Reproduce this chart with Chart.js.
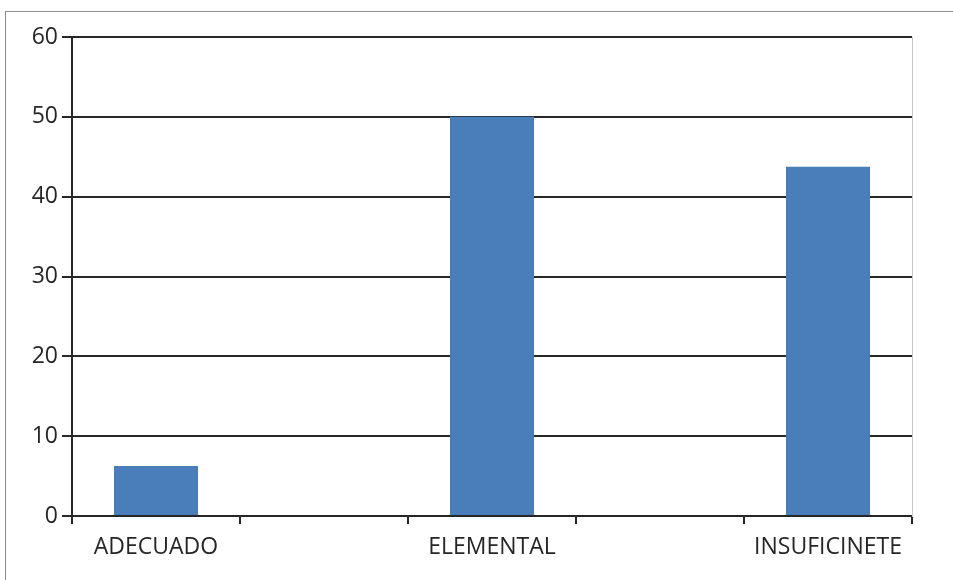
<!DOCTYPE html>
<html lang="es">
<head>
    <meta charset="UTF-8">
    <title>Niveles</title>
    <style>
        html, body {
            margin: 0;
            padding: 0;
            background: #ffffff;
            width: 953px;
            height: 580px;
            overflow: hidden;
        }
        .frame {
            position: absolute;
            left: 5px;
            top: 11px;
            width: 1000px;
            height: 700px;
            border-top: 1px solid #8c8c8c;
            border-left: 1px solid #8c8c8c;
        }
        canvas {
            position: absolute;
            left: 0;
            top: 0;
        }
    </style>
</head>
<body>
    <div class="frame"></div>
    <canvas id="chartCanvas" width="953" height="580"></canvas>

    <script src="https://cdn.jsdelivr.net/npm/chart.js@4.4.0/dist/chart.umd.min.js"></script>
    <script>
        // empty slots between the categories give the extra tick marks
        const categories = ['ADECUADO', '', 'ELEMENTAL', '', 'INSUFICINETE'];
        const values = [6.25, null, 50, null, 43.75];
        const yTicks = [0, 10, 20, 30, 40, 50, 60];

        const labelFont = { family: "'Open Sans', sans-serif", size: 23 };
        const lineColor = '#262626';

        const ctx = document.getElementById('chartCanvas').getContext('2d');
        new Chart(ctx, {
            type: 'bar',
            data: {
                labels: categories,
                datasets: [{
                    data: values,
                    backgroundColor: '#4a7ebb',
                    borderWidth: 0,
                    barPercentage: 0.5,
                    categoryPercentage: 1.0
                }]
            },
            options: {
                responsive: false,
                animation: false,
                layout: { padding: { top: 37, right: 41, bottom: 0, left: 0 } },
                plugins: {
                    legend: { display: false },
                    tooltip: { enabled: false }
                },
                scales: {
                    x: {
                        offset: true,
                        grid: {
                            offset: true,
                            drawOnChartArea: false,
                            drawTicks: true,
                            tickLength: 8,
                            color: lineColor,
                            lineWidth: 2
                        },
                        border: { color: lineColor, width: 2 },
                        ticks: {
                            font: labelFont,
                            color: '#262626',
                            padding: 10,
                            maxRotation: 0,
                            autoSkip: false
                        },
                        afterFit(scale) { scale.height = 64; }
                    },
                    y: {
                        min: 0,
                        max: 60,
                        afterBuildTicks(scale) {
                            scale.ticks = yTicks.map(v => ({ value: v }));
                        },
                        grid: {
                            color: lineColor,
                            lineWidth: 2,
                            tickLength: 10
                        },
                        border: { color: lineColor, width: 2 },
                        ticks: {
                            font: labelFont,
                            color: '#262626',
                            padding: 4
                        },
                        afterFit(scale) { scale.width = 72; }
                    },
                    yRight: {
                        position: 'right',
                        display: true,
                        grid: { display: false, drawTicks: false },
                        ticks: { display: false },
                        border: { color: '#c8c8c8', width: 1 },
                        afterFit(scale) { scale.width = 0; }
                    }
                }
            }
        });
    </script>
</body>
</html>
